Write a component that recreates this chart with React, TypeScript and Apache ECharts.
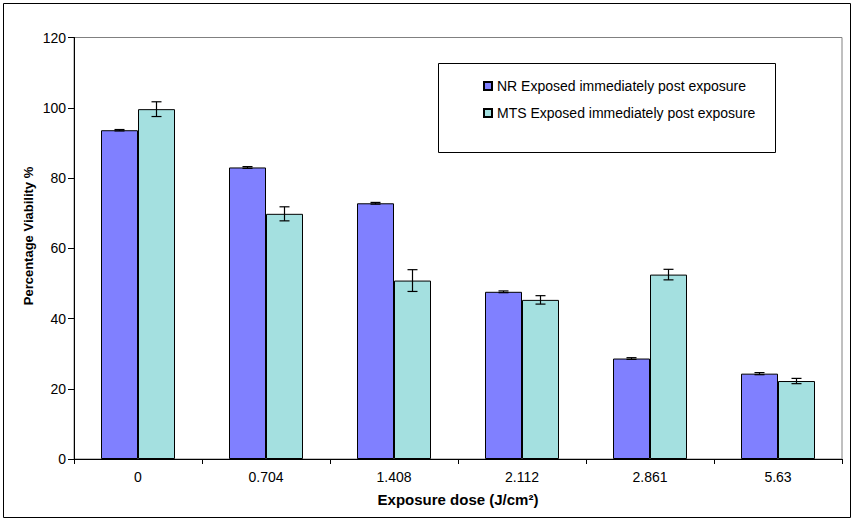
import React, { useEffect, useRef } from "react";
import * as echarts from "echarts";

const categories = ["0", "0.704", "1.408", "2.112", "2.861", "5.63"];
const nrValues = [93.6, 83.0, 72.8, 47.6, 28.6, 24.3];
const nrErrors = [0.2, 0.25, 0.25, 0.25, 0.25, 0.3];
const mtsValues = [99.6, 69.8, 50.8, 45.3, 52.5, 22.2];
const mtsErrors = [2.1, 2.0, 3.1, 1.2, 1.5, 0.75];
const seriesNames = [
  "NR Exposed immediately post exposure",
  "MTS Exposed immediately post exposure",
];
const yTicks = { min: 0, max: 120, interval: 20 };

const BAR_W = 37;

export default function App() {
  const ref = useRef<HTMLDivElement>(null);
  useEffect(() => {
    if (!ref.current) return;
    const chart = echarts.init(ref.current, undefined, { renderer: "svg" });
    const font = "'Liberation Sans', Arial, sans-serif";

    const errData = (vals: number[], errs: number[], off: number) =>
      vals.map((v, i) => [i, v, errs[i], off]);

    const renderErr = (params: any, api: any) => {
      const idx = api.value(0);
      const v = api.value(1);
      const e = api.value(2);
      const off = api.value(3);
      const x = api.coord([idx, v])[0] + off;
      const hi = api.coord([idx, v + e])[1];
      const lo = api.coord([idx, v - e])[1];
      const st = { stroke: "#000", lineWidth: 1.2 };
      return {
        type: "group",
        children: [
          { type: "line", shape: { x1: x, y1: hi, x2: x, y2: lo }, style: st },
          { type: "line", shape: { x1: x - 5, y1: hi, x2: x + 5, y2: hi }, style: st },
          { type: "line", shape: { x1: x - 5, y1: lo, x2: x + 5, y2: lo }, style: st },
        ],
      };
    };

    chart.setOption({
      animation: false,
      backgroundColor: "#fff",
      textStyle: { fontFamily: font },
      grid: {
        left: 74,
        right: 12,
        top: 37.5,
        bottom: 62,
        show: true,
        borderColor: "#808080",
        borderWidth: 1,
        backgroundColor: "transparent",
      },
      legend: {
        orient: "vertical",
        left: 483,
        top: 79,
        padding: 0,
        z: 20,
        data: seriesNames,
        itemWidth: 8,
        itemHeight: 8,
        itemGap: 13,
        icon: "rect",
        textStyle: { fontFamily: font, fontSize: 14, color: "#000", lineHeight: 14 },
      },
      graphic: [
        {
          type: "rect",
          shape: { x: 3.5, y: 3.5, width: 847, height: 514 },
          style: { fill: "none", stroke: "#000", lineWidth: 1 },
          z: -10,
        },
        {
          type: "rect",
          shape: { x: 438.5, y: 63.5, width: 337, height: 89 },
          style: { fill: "#fff", stroke: "#000", lineWidth: 1 },
          z: 1,
        },
        {
          type: "text",
          x: 28,
          y: 236,
          rotation: Math.PI / 2,
          style: {
            text: "Percentage Viability %",
            fontFamily: font,
            fontSize: 13,
            fontWeight: "bold",
            fill: "#000",
            align: "center",
            verticalAlign: "middle",
          },
        },
      ],
      xAxis: {
        type: "category",
        data: categories,
        name: "Exposure dose (J/cm²)",
        nameLocation: "middle",
        nameGap: 33,
        nameTextStyle: { fontFamily: font, fontSize: 15, fontWeight: "bold", color: "#000" },
        axisLine: { lineStyle: { color: "#000", width: 1 } },
        axisTick: { show: true, length: 5, lineStyle: { color: "#000" } },
        axisLabel: { fontFamily: font, fontSize: 14, color: "#000", margin: 11 },
        splitLine: { show: false },
      },
      yAxis: {
        type: "value",
        min: yTicks.min,
        max: yTicks.max,
        interval: yTicks.interval,
        axisLine: { show: true, lineStyle: { color: "#000", width: 1 } },
        axisTick: { show: true, length: 6, lineStyle: { color: "#000" } },
        axisLabel: { fontFamily: font, fontSize: 14, color: "#000", margin: 8 },
        splitLine: { show: false },
      },
      series: [
        {
          name: seriesNames[0],
          type: "bar",
          data: nrValues,
          barWidth: BAR_W,
          barGap: "0%",
          itemStyle: { color: "#8080FF", borderColor: "#000", borderWidth: 1 },
        },
        {
          name: seriesNames[1],
          type: "bar",
          data: mtsValues,
          barWidth: BAR_W,
          barGap: "0%",
          itemStyle: { color: "#A4E0E0", borderColor: "#000", borderWidth: 1 },
        },
        {
          type: "custom",
          name: "nrErr",
          data: errData(nrValues, nrErrors, -BAR_W / 2),
          encode: { x: 0, y: 1 },
          renderItem: renderErr,
          z: 10,
        },
        {
          type: "custom",
          name: "mtsErr",
          data: errData(mtsValues, mtsErrors, BAR_W / 2),
          encode: { x: 0, y: 1 },
          renderItem: renderErr,
          z: 10,
        },
      ],
    });
    return () => chart.dispose();
  }, []);
  return (
    <div
      ref={ref}
      style={{ position: "fixed", left: 0, top: 0, width: 854, height: 521 }}
    />
  );
}
